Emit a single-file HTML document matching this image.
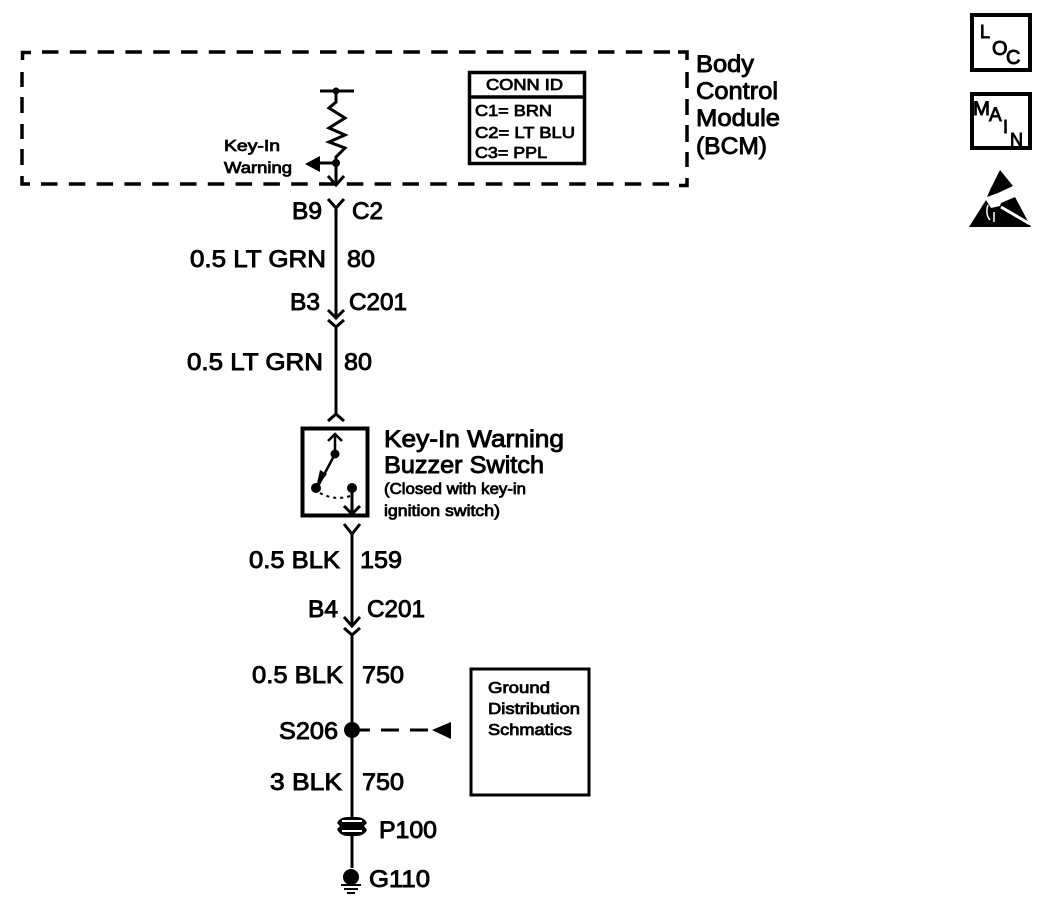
<!DOCTYPE html>
<html><head><meta charset="utf-8"><style>
html,body{margin:0;padding:0;background:#fff}
svg{display:block}
text{font-family:"Liberation Sans",sans-serif;fill:#000;stroke:#000;stroke-width:.9}
.b{font-size:24px}
.m{font-size:24px}
.s{font-size:16px;stroke-width:.8}
.t{font-size:16px;stroke-width:.8}
</style></head><body>
<svg width="1056" height="902" viewBox="0 0 1056 902" xmlns="http://www.w3.org/2000/svg">
<g fill="none" stroke="#000" stroke-width="3">
<g stroke-width="3.500">
<path d="M42 52H670" stroke-dasharray="16.500 11.300"/>
<path d="M41 184H670" stroke-dasharray="16.500 11.300"/>
<path d="M22.500 60V52.500H31M22 72V87M22 97V113M22 124V139M22 149V165M22 176V184H30"/>
<path d="M678 52H687V60M687 72V88M687 99V115M687 125V142M687 152V167M687 178V185.500H679"/>
</g>
<path d="M320 91H354M336 91V102L329 108L345 118L329 128L345 135L329 142L345 148L336 157V184"/>
<path d="M336 163H316"/>
<path d="M328 176L336 185L344 176"/>
<path d="M328 199L336 208L344 199M336 208V317M328 310L336 318L344 310M328 320L336 327L344 320M336 327V414M328 421L336 414L344 421"/>
<rect x="302.500" y="428.500" width="65" height="87" stroke-width="4"/>
<path d="M335 434V454M328 441L335 434L342 441" stroke-width="2.500"/>
<path d="M335 454L318 486" stroke-width="2.500"/>
<path d="M352 488V514M344 506L352 514L360 506"/>
<path d="M320 493Q335 501 350 496" stroke-width="2" stroke-dasharray="3 4"/>
<path d="M344 524L352 534L360 524M352 534V625M344 617L352 626L360 617M344 628L352 635L360 628M352 635V818"/>
<path d="M352 730H448" stroke-dasharray="18 11"/>
<path d="M352 834V868"/>
<rect x="471" y="669" width="118" height="126" stroke-width="3"/>
<rect x="469.500" y="72.500" width="115" height="91" stroke-width="3.500"/>
<path d="M469 97H585" stroke-width="3.500"/>
<rect x="972" y="15" width="58" height="55" stroke-width="4"/>
<rect x="972" y="94" width="58" height="54" stroke-width="4"/>
</g>
<path d="M305 164L320 156V172Z"/>
<circle cx="336" cy="91" r="3.500"/><circle cx="336" cy="163" r="4"/>
<circle cx="335" cy="454" r="4.500"/><circle cx="316" cy="488" r="5"/><circle cx="352" cy="488" r="5"/>
<path d="M316 488L327 474L320 470Z"/>
<circle cx="352" cy="730" r="8"/>
<path d="M432 730L451 722V739Z"/>
<path d="M337 823Q340 817 348 817H356Q364 817 367 823L364 826H340ZM337 829L340 826H364L367 830Q364 836 356 836H348Q340 836 337 829Z"/>
<path d="M342 821H362M342 831H362" stroke="#fff" stroke-width="2"/>
<circle cx="351" cy="877" r="8"/>
<path d="M341 885H361M344 889H358M347 893H355" stroke="#000" stroke-width="2"/>
<path d="M1000 170L1013 186L998 193L987 197L990 190Z"/>
<path d="M969 227L986 200L991 208L1000 206L1001 203L1015 197L1031 227Z"/>
<path d="M1001 207L1030 224" stroke="#fff" stroke-width="3"/>
<path d="M988 205Q985 214 990 220M994 212V222" stroke="#fff" stroke-width="1.500" fill="none"/>

<text lengthAdjust="spacingAndGlyphs" class="b" x="696" y="72" textLength="58">Body</text>
<text lengthAdjust="spacingAndGlyphs" class="b" x="696" y="99" textLength="82">Control</text>
<text lengthAdjust="spacingAndGlyphs" class="b" x="696" y="126" textLength="84">Module</text>
<text lengthAdjust="spacingAndGlyphs" class="b" x="696" y="154" textLength="71">(BCM)</text>
<text lengthAdjust="spacingAndGlyphs" class="t" x="224" y="151" textLength="56">Key-In</text>
<text lengthAdjust="spacingAndGlyphs" class="t" x="224" y="173" textLength="68">Warning</text>
<text lengthAdjust="spacingAndGlyphs" class="s" x="486" y="90" textLength="77">CONN ID</text>
<text lengthAdjust="spacingAndGlyphs" class="s" x="475" y="116" textLength="77">C1= BRN</text>
<text lengthAdjust="spacingAndGlyphs" class="s" x="475" y="138" textLength="100">C2= LT BLU</text>
<text lengthAdjust="spacingAndGlyphs" class="s" x="475" y="158" textLength="72">C3= PPL</text>
<text lengthAdjust="spacingAndGlyphs" class="m" x="292" y="219" textLength="30">B9</text>
<text lengthAdjust="spacingAndGlyphs" class="m" x="352" y="219" textLength="31">C2</text>
<text lengthAdjust="spacingAndGlyphs" class="b" x="190" y="267" textLength="136">0.5 LT GRN</text>
<text lengthAdjust="spacingAndGlyphs" class="b" x="347" y="267" textLength="28">80</text>
<text lengthAdjust="spacingAndGlyphs" class="m" x="290" y="310" textLength="30">B3</text>
<text lengthAdjust="spacingAndGlyphs" class="m" x="349" y="310" textLength="58">C201</text>
<text lengthAdjust="spacingAndGlyphs" class="b" x="187" y="370" textLength="136">0.5 LT GRN</text>
<text lengthAdjust="spacingAndGlyphs" class="b" x="344" y="370" textLength="28">80</text>
<text lengthAdjust="spacingAndGlyphs" class="b" x="384" y="447" textLength="180">Key-In Warning</text>
<text lengthAdjust="spacingAndGlyphs" class="b" x="384" y="473" textLength="160">Buzzer Switch</text>
<text lengthAdjust="spacingAndGlyphs" class="t" x="384" y="494" textLength="142">(Closed with key-in</text>
<text lengthAdjust="spacingAndGlyphs" class="t" x="384" y="516" textLength="116">ignition switch)</text>
<text lengthAdjust="spacingAndGlyphs" class="b" x="249" y="568" textLength="91">0.5 BLK</text>
<text lengthAdjust="spacingAndGlyphs" class="b" x="360" y="568" textLength="42">159</text>
<text lengthAdjust="spacingAndGlyphs" class="m" x="308" y="617" textLength="30">B4</text>
<text lengthAdjust="spacingAndGlyphs" class="m" x="367" y="617" textLength="58">C201</text>
<text lengthAdjust="spacingAndGlyphs" class="b" x="252" y="683" textLength="91">0.5 BLK</text>
<text lengthAdjust="spacingAndGlyphs" class="b" x="362" y="683" textLength="42">750</text>
<text lengthAdjust="spacingAndGlyphs" class="b" x="279" y="739" textLength="59">S206</text>
<text lengthAdjust="spacingAndGlyphs" class="b" x="270" y="790" textLength="72">3 BLK</text>
<text lengthAdjust="spacingAndGlyphs" class="b" x="362" y="790" textLength="42">750</text>
<text lengthAdjust="spacingAndGlyphs" class="m" x="379" y="838" textLength="58">P100</text>
<text lengthAdjust="spacingAndGlyphs" class="m" x="369" y="887" textLength="61">G110</text>
<text lengthAdjust="spacingAndGlyphs" class="t" x="488" y="693" textLength="62">Ground</text>
<text lengthAdjust="spacingAndGlyphs" class="t" x="488" y="714" textLength="92">Distribution</text>
<text lengthAdjust="spacingAndGlyphs" class="t" x="488" y="735" textLength="84">Schmatics</text>
<text x="980" y="38" style="font-size:18px">L</text>
<text x="992" y="55" style="font-size:20px">O</text>
<text x="1006" y="64" style="font-size:20px">C</text>
<text x="973" y="115" style="font-size:19px" textLength="17" lengthAdjust="spacingAndGlyphs">M</text>
<text x="989" y="121" style="font-size:19px">A</text>
<text x="1003" y="133" style="font-size:18px">I</text>
<text x="1010" y="146" style="font-size:18px">N</text>
</svg>
</body></html>
